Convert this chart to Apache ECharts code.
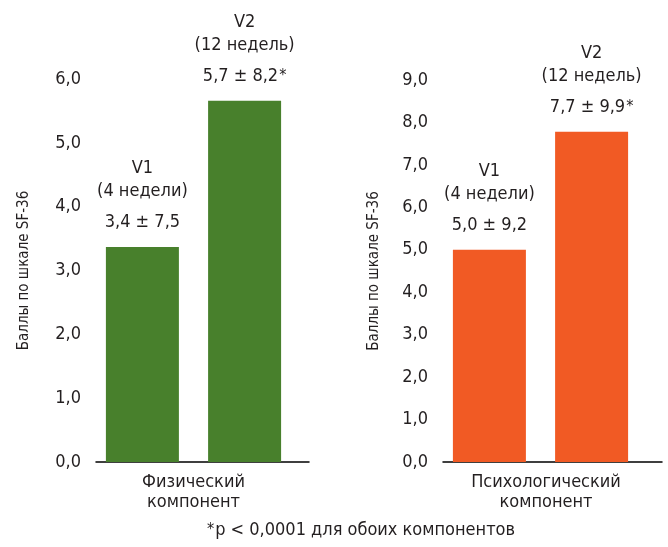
<!DOCTYPE html>
<html><head><meta charset="utf-8">
<script src="https://cdn.jsdelivr.net/npm/echarts@6/dist/echarts.min.js"></script>
<style>html,body{margin:0;padding:0;background:#fff}#c{width:668px;height:547px}</style>
</head><body><div id="c"></div>
<script>
// ---- data ----
const categoriesPhys = ['Физический\nкомпонент'];
const categoriesPsy = ['Психологический\nкомпонент'];
const v1Phys = [3.37];
const v2Phys = [5.66];
const v1Psy = [5.0];
const v2Psy = [7.78];
const v1Title = ['V1', '(4 недели)'];
const v2Title = ['V2', '(12 недель)'];
const v1PhysText = '3,4 ± 7,5';
const v2PhysText = '5,7 ± 8,2';
const v1PsyText = '5,0 ± 9,2';
const v2PsyText = '7,7 ± 9,9';
const yMaxPhys = 6;
const yMaxPsy = 9;
const yName = 'Баллы по шкале SF-36';
const footnote = 'p < 0,0001 для обоих компонентов';

const FONT = '"Liberation Sans Narrow", "DejaVu Sans Condensed", "Roboto", sans-serif';
const TXT = '#231f20';
const GREEN = '#48802c';
const ORANGE = '#f15a24';

function richLabel(title, val, star) {
  return {
    show: true, position: 'top', distance: 13,
    formatter: '{a|' + title[0] + '}\n{a|' + title[1] + '}\n{s| }\n{b|' + val + '}' + (star ? '{st|*}' : ''),
    rich: {
      a: {fontFamily: FONT, fontSize: 18, color: TXT, lineHeight: 23, align: 'center'},
      s: {fontSize: 6, lineHeight: 8},
      b: {fontFamily: FONT, fontSize: 18, color: TXT, lineHeight: 23, align: 'center'},
      st: {fontFamily: FONT, fontSize: 16, color: TXT, lineHeight: 23, padding: [0, 0, 0, 1]}
    }
  };
}

function yAxisBase(gridIndex, max, gap) {
  return {
    type: 'value', gridIndex, min: 0, max, interval: 1,
    name: yName, nameLocation: 'middle', nameGap: gap, nameRotate: 90,
    nameTextStyle: {fontFamily: FONT, fontSize: 15, color: TXT},
    axisLine: {show: false}, axisTick: {show: false}, splitLine: {show: false},
    axisLabel: {fontFamily: FONT, fontSize: 18, color: TXT, margin: 15,
      formatter: v => v.toFixed(1).replace('.', ',')}
  };
}
function hiddenY(gridIndex, max) {
  return {type: 'value', gridIndex, min: 0, max, show: false};
}

const option = {
  backgroundColor: '#fff',
  animation: false,
  grid: [
    {left: 96, top: 79, width: 195, height: 383},
    {left: 96, top: 79, width: 213, height: 383},
    {left: 443, top: 80, width: 195, height: 382},
    {left: 443, top: 80, width: 219, height: 382}
  ],
  xAxis: [
    {type: 'category', gridIndex: 0, data: categoriesPhys,
      axisLine: {show: false}, axisTick: {show: false},
      axisLabel: {fontFamily: FONT, fontSize: 18, color: TXT, margin: 10, lineHeight: 20}},
    {type: 'category', gridIndex: 1, data: [''],
      axisLine: {show: true, lineStyle: {color: '#000', width: 1.5}}, axisTick: {show: false}, axisLabel: {show: false}},
    {type: 'category', gridIndex: 2, data: categoriesPsy,
      axisLine: {show: false}, axisTick: {show: false},
      axisLabel: {fontFamily: FONT, fontSize: 18, color: TXT, margin: 10, lineHeight: 20, padding: [0, 0, 0, 11]}},
    {type: 'category', gridIndex: 3, data: [''],
      axisLine: {show: true, lineStyle: {color: '#000', width: 1.5}}, axisTick: {show: false}, axisLabel: {show: false}}
  ],
  yAxis: [
    yAxisBase(0, yMaxPhys, 64),
    hiddenY(1, yMaxPhys),
    yAxisBase(2, yMaxPsy, 61),
    hiddenY(3, yMaxPsy)
  ],
  series: [
    {type: 'bar', xAxisIndex: 0, yAxisIndex: 0, data: v1Phys, barWidth: 73, barGap: '40%',
      itemStyle: {color: GREEN}, label: richLabel(v1Title, v1PhysText, false)},
    {type: 'bar', xAxisIndex: 0, yAxisIndex: 0, data: v2Phys, barWidth: 73, barGap: '40%',
      itemStyle: {color: GREEN}, label: richLabel(v2Title, v2PhysText, true)},
    {type: 'bar', xAxisIndex: 2, yAxisIndex: 2, data: v1Psy, barWidth: 73, barGap: '40%',
      itemStyle: {color: ORANGE}, label: richLabel(v1Title, v1PsyText, false)},
    {type: 'bar', xAxisIndex: 2, yAxisIndex: 2, data: v2Psy, barWidth: 73, barGap: '40%',
      itemStyle: {color: ORANGE}, label: richLabel(v2Title, v2PsyText, true)}
  ],
  graphic: [{
    type: 'text', x: 361, y: 530,
    style: {
      text: '{st|*}{t|' + footnote + '}',
      align: 'center', verticalAlign: 'middle',
      rich: {
        t: {fontFamily: FONT, fontSize: 18, fill: TXT, lineHeight: 22},
        st: {fontFamily: FONT, fontSize: 16, fill: TXT, lineHeight: 22, padding: [0, 1, 0, 0]}
      }
    }
  }]
};
const chart = echarts.init(document.getElementById('c'), null, {renderer: 'canvas'});
chart.setOption(option);
</script>
</body></html>
